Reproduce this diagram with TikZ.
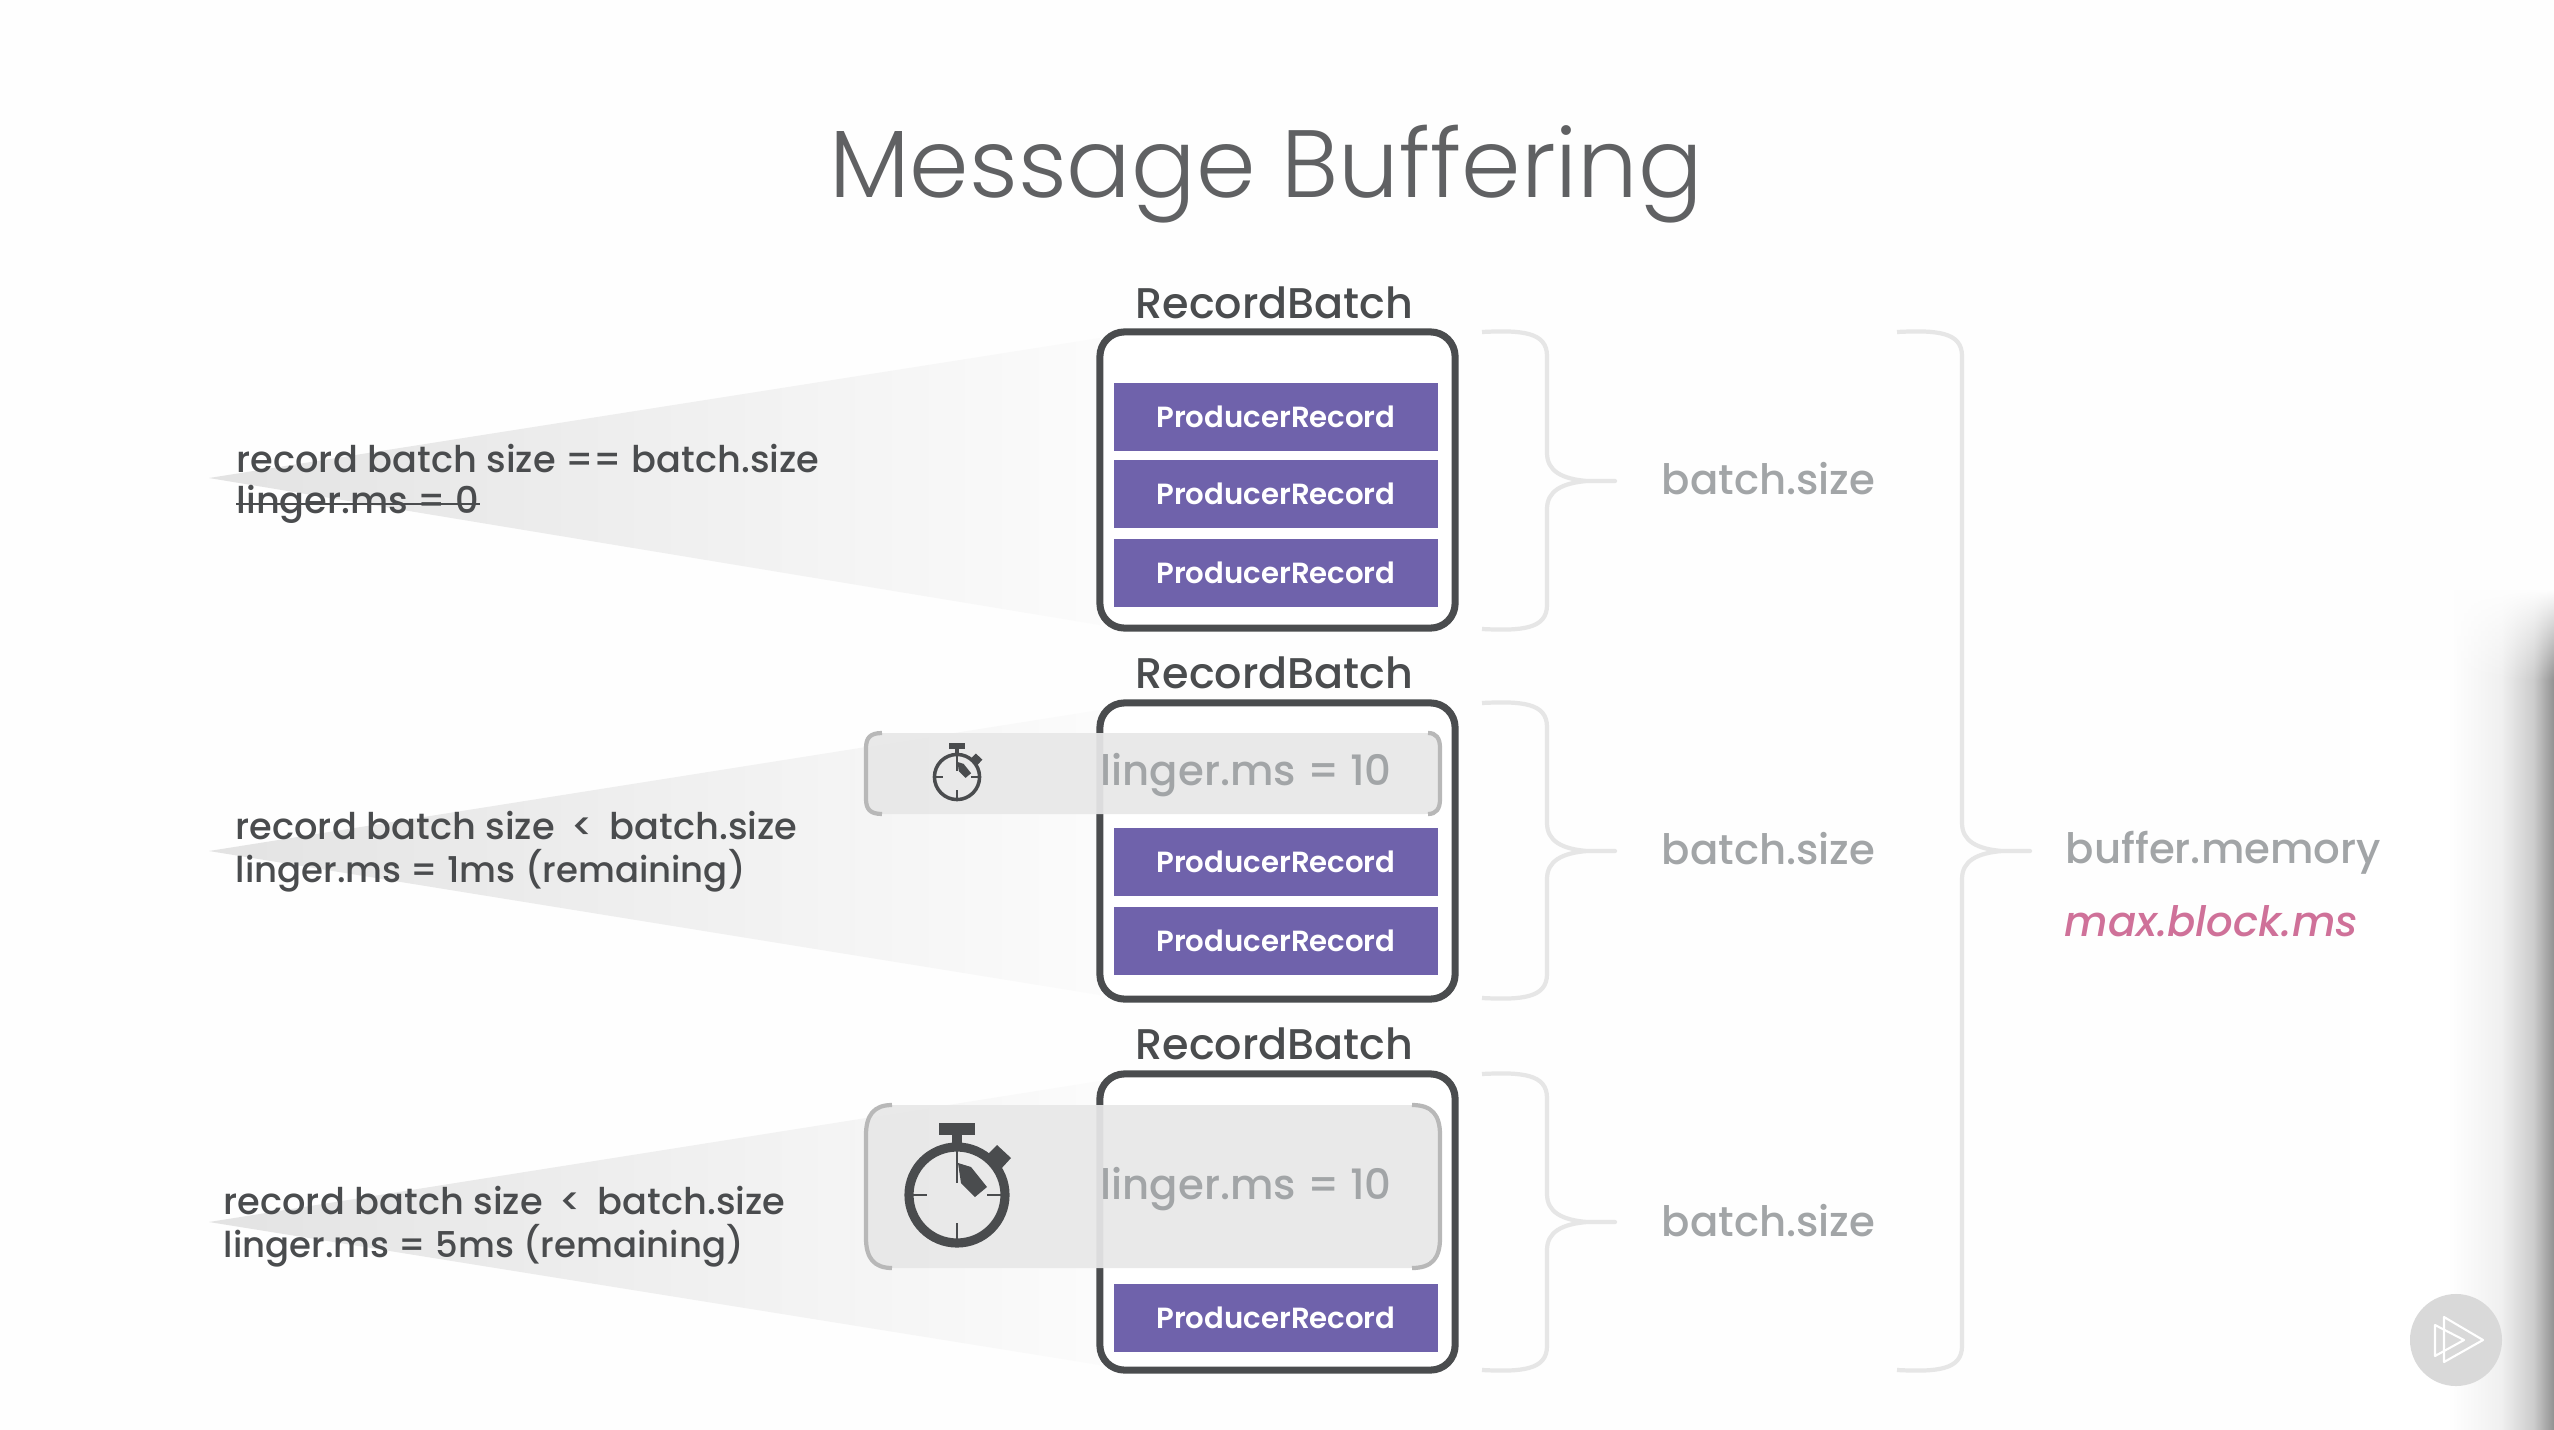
\documentclass[tikz,border=0pt]{standalone}
\usepackage{fontspec}
\usetikzlibrary{calc,positioning,fadings}
\setmainfont{Poppins}
\newfontfamily\lightfont{Poppins Light}
\newfontfamily\medfont{Poppins Medium}
\newfontfamily\semifont{Poppins SemiBold}
\definecolor{ink}{HTML}{4A4C4E}
\definecolor{pale}{HTML}{A2A5A7}
\definecolor{plum}{HTML}{6F62AB}
\definecolor{rose}{HTML}{CF7199}
\definecolor{curl}{HTML}{E6E6E6}
\pgfdeclarehorizontalshading{edgeshadow}{100bp}{color(0bp)=(white); color(49bp)=(white); color(62bp)=(white!94!black); color(70bp)=(white!80!black); color(75bp)=(white!57!black); color(100bp)=(white!57!black)}
\tikzfading[name=shadowtop,top color=transparent!100,bottom color=transparent!0]
\newcommand{\brc}[4]{\draw[brc] (#1,#2) .. controls (#1+40,#2-2) and (#1+65,#2) .. (#1+65,#2+24) -- (#1+65,#3-28) .. controls (#1+65,#3-10) and (#1+80,#3-2) .. (#1+105,#3) -- (#1+133,#3) -- (#1+105,#3) .. controls (#1+80,#3+2) and (#1+65,#3+10) .. (#1+65,#3+28) -- (#1+65,#4-24) .. controls (#1+65,#4) and (#1+40,#4+2) .. (#1,#4);}
\tikzset{watch/.pic={
    \draw[line width=#1,ink] (0,0) circle (48);
    \fill[ink] (-18,-72) rectangle (18,-60);
    \fill[ink] (-5,-62) rectangle (5,-48);
    \fill[ink] (40,-50) -- (54,-37) -- (43,-25) -- (28,-38) -- cycle;
    \fill[ink] (1,-32) -- (14,-28) -- (30,-8) -- (18,2) -- (4,-12) -- cycle;
    \draw[ink,line width=.4pt] (0,-45) -- (0,-12) (0,45) -- (0,28) (45,0) -- (30,0) (-45,0) -- (-30,0);
}}
\begin{document}
\begin{tikzpicture}[x=.01cm,y=-.01cm,
    batch/.style={draw=ink,line width=2pt,rounded corners=7pt,fill=white,minimum width=3.55cm,minimum height=2.96cm,inner sep=0},
    record/.style={fill=plum,text=white,font=\semifont\fontsize{8.3}{10}\selectfont,minimum width=3.24cm,minimum height=.68cm,inner sep=0},
    head/.style={text=ink,font=\medfont\fontsize{12.2}{14}\selectfont,inner sep=0},
    note/.style={text=ink,font=\medfont\fontsize{10.45}{12}\selectfont,inner sep=0,anchor=west},
    note2/.style={note,font=\medfont\fontsize{10.1}{12}\selectfont},
    size/.style={text=pale,font=\medfont\fontsize{11.9}{14}\selectfont,inner sep=0,anchor=west},
    cone/.style={left color=black!11,right color=black!1.5},
    panel/.style={fill=black!9,fill opacity=.93},
    bracket/.style={draw=black!28,line width=1.2pt},
    brc/.style={draw=curl,line width=1.2pt,line join=round}]
    \fill[white!99.5!black] (0,0) rectangle (2554,1430);
    \shade[shading=edgeshadow,path fading=shadowtop] (2350,590) rectangle (2554,680);
    \shade[shading=edgeshadow] (2350,680) rectangle (2554,1430);

    \node (title) at (1266,174) {\lightfont\fontsize{27.2}{33}\selectfont\color{ink!88}Message Buffering};

    \shade[cone] (209,478) -- (1100,338) -- (1100,625) -- cycle;
    \shade[cone] (209,851) -- (1100,710) -- (1100,995) -- cycle;
    \shade[cone] (209,1222) -- (1100,1081) -- (1100,1365) -- cycle;

    \node (b1) [batch] at (1277.5,480) {};
    \node (b2) [batch] at (1277.5,851) {};
    \node (b3) [batch] at (1277.5,1222) {};

    \node (h1) [head] at ($(b1)+(-3,-177)$) {RecordBatch};
    \node (h2) [head] at ($(b2)+(-3,-178)$) {RecordBatch};
    \node (h3) [head] at ($(b3)+(-3,-178)$) {RecordBatch};

    \node (r1) [record] at ($(b1)+(-1.5,-63)$) {ProducerRecord};
    \node (r2) [record] at ($(b1)+(-1.5,14)$) {ProducerRecord};
    \node (r3) [record] at ($(b1)+(-1.5,93)$) {ProducerRecord};
    \node (r4) [record] at ($(b2)+(-1.5,11)$) {ProducerRecord};
    \node (r5) [record] at ($(b2)+(-1.5,90)$) {ProducerRecord};
    \node (r6) [record] at ($(b3)+(-1.5,96)$) {ProducerRecord};

    \fill[panel,rounded corners=4pt] (866,733) rectangle (1439,814);
    \fill[panel,rounded corners=8pt] (866,1105) rectangle (1439,1268);
    \draw[bracket] (882,733) .. controls (870,733) and (866,738) .. (866,748) -- (866,799) .. controls (866,809) and (870,814) .. (882,814);
    \draw[bracket] (1428,733) .. controls (1436,733) and (1440,738) .. (1440,748) -- (1440,799) .. controls (1440,809) and (1436,814) .. (1428,814);
    \draw[bracket] (892,1105) .. controls (874,1105) and (866,1115) .. (866,1135) -- (866,1238) .. controls (866,1258) and (874,1268) .. (892,1268);
    \draw[bracket] (1412,1105) .. controls (1432,1105) and (1440,1115) .. (1440,1135) -- (1440,1238) .. controls (1440,1258) and (1432,1268) .. (1412,1268);

    \pic (w1) [scale=.47] at (957,777) {watch=1pt};
    \pic (w2) at (957,1195) {watch=2.6pt};
    \node (l1) [size] at (1100,775) {linger.ms = 10};
    \node (l2) [size] at (1100,1189) {linger.ms = 10};

    \node (n1) [note] at (236,459) {record batch size == batch.size};
    \node (n2) [note] at (236,504) {linger.ms = 0};
    \draw[ink,line width=.6pt] (n2.west) -- (n2.east);
    \node (n3) [note] at (235,826) {record batch size\;\,<\;\,batch.size};
    \node (n4) [note2] at (235,871) {linger.ms = 1ms (remaining)};
    \node (n5) [note] at (223,1201) {record batch size\;\,<\;\,batch.size};
    \node (n6) [note2] at (223,1246) {linger.ms = 5ms (remaining)};

    \brc{1482}{332}{481}{629}
    \brc{1482}{703}{851}{998}
    \brc{1482}{1074}{1222}{1370}
    \brc{1897}{332}{851}{1370}

    \node (s1) [size] at (1661,479) {batch.size};
    \node (s2) [size] at (1661,849) {batch.size};
    \node (s3) [size] at (1661,1221) {batch.size};
    \node (mem) [size] at (2065,853) {buffer.memory};
    \node (blk) [size,text=rose,font=\medfont\itshape\fontsize{11.9}{14}\selectfont] at (2064,921) {max.block.ms};

    \node (play) [circle,fill=black!15,minimum size=.92cm,inner sep=0] at (2456,1340) {};
    \draw[white,line width=.6pt,line join=round] (2444,1317) -- (2444,1362) -- (2483,1340) -- cycle;
    \draw[white,line width=.6pt,line join=round] (2435,1325) -- (2435,1356) -- (2464,1340) -- cycle;
\end{tikzpicture}
\end{document}
